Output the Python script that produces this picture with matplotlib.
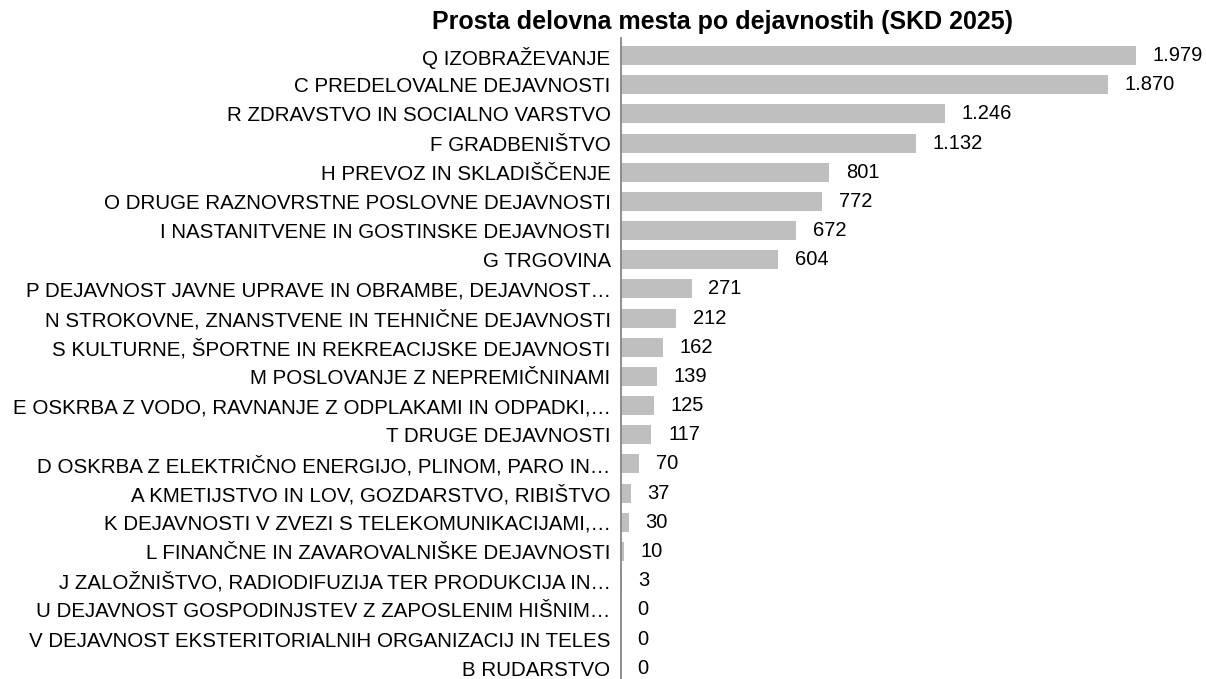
import matplotlib
matplotlib.use("Agg")
import matplotlib.pyplot as plt

# Podatki (od zgoraj navzdol)
dejavnosti = [
    "Q IZOBRAŽEVANJE",
    "C PREDELOVALNE DEJAVNOSTI",
    "R ZDRAVSTVO IN SOCIALNO VARSTVO",
    "F GRADBENIŠTVO",
    "H PREVOZ IN SKLADIŠČENJE",
    "O DRUGE RAZNOVRSTNE POSLOVNE DEJAVNOSTI",
    "I NASTANITVENE IN GOSTINSKE DEJAVNOSTI",
    "G TRGOVINA",
    "P DEJAVNOST JAVNE UPRAVE IN OBRAMBE, DEJAVNOST…",
    "N STROKOVNE, ZNANSTVENE IN TEHNIČNE DEJAVNOSTI",
    "S KULTURNE, ŠPORTNE IN REKREACIJSKE DEJAVNOSTI",
    "M POSLOVANJE Z NEPREMIČNINAMI",
    "E OSKRBA Z VODO, RAVNANJE Z ODPLAKAMI IN ODPADKI,…",
    "T DRUGE DEJAVNOSTI",
    "D OSKRBA Z ELEKTRIČNO ENERGIJO, PLINOM, PARO IN…",
    "A KMETIJSTVO IN LOV, GOZDARSTVO, RIBIŠTVO",
    "K DEJAVNOSTI V ZVEZI S TELEKOMUNIKACIJAMI,…",
    "L FINANČNE IN ZAVAROVALNIŠKE DEJAVNOSTI",
    "J ZALOŽNIŠTVO, RADIODIFUZIJA TER PRODUKCIJA IN…",
    "U DEJAVNOST GOSPODINJSTEV Z ZAPOSLENIM HIŠNIM…",
    "V DEJAVNOST EKSTERITORIALNIH ORGANIZACIJ IN TELES",
    "B RUDARSTVO",
]
prosta_mesta = [1979, 1870, 1246, 1132, 801, 772, 672, 604, 271, 212, 162,
                139, 125, 117, 70, 37, 30, 10, 3, 0, 0, 0]

plt.rcParams['font.family'] = ['Liberation Sans', 'DejaVu Sans']

fig = plt.figure(figsize=(12.06, 6.79), dpi=100)
# os od y=38 do spodnjega roba slike
ax = fig.add_axes([621 / 1206, 0.0, 585 / 1206, 641 / 679])

y = list(range(len(dejavnosti)))
ax.barh(y, prosta_mesta, height=0.65, color="#bfbfbf")
ax.set_ylim(21.37, -0.6)
ax.set_xlim(0, 2248)

ax.set_yticks(y)
ax.set_yticklabels(dejavnosti, fontsize=14.8, color="black")
ax.tick_params(axis="y", length=0, pad=7.5)
ax.set_xticks([])

for s in ["top", "right", "bottom"]:
    ax.spines[s].set_visible(False)
ax.spines["left"].set_color("#868686")
ax.spines["left"].set_linewidth(1.3)

# oznake vrednosti
for yi, v in zip(y, prosta_mesta):
    besedilo = f"{v:,}".replace(",", ".")
    ax.annotate(besedilo, (v, yi), xytext=(12, 0), textcoords="offset points",
                ha="left", va="center", fontsize=14.5)

fig.text(723 / 1206, 1 - 22 / 679, "Prosta delovna mesta po dejavnostih (SKD 2025)",
         ha="center", va="center", fontsize=18, fontweight="bold")

fig.savefig("out.png", dpi=100)
